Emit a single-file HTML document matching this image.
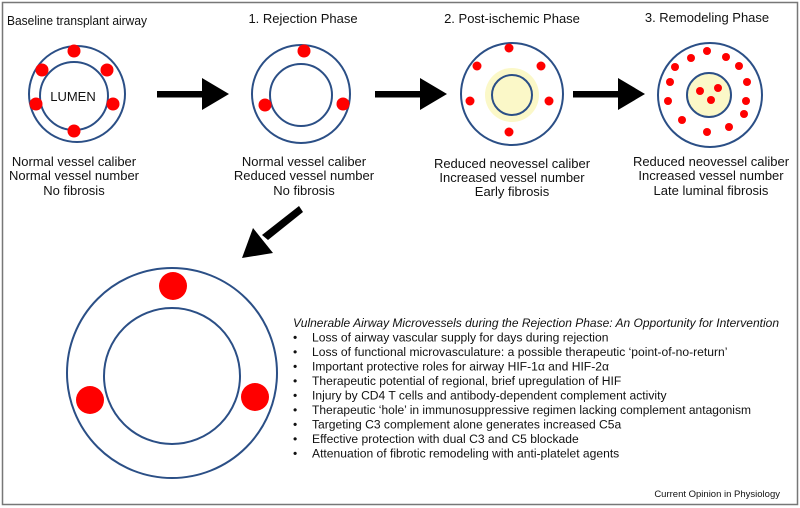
<!DOCTYPE html>
<html><head><meta charset="utf-8"><style>
html,body{margin:0;padding:0;background:#fff;}
svg{display:block;}
text{font-family:"Liberation Sans",Arial,sans-serif;fill:#111;}
</style></head><body>
<svg width="800" height="508" viewBox="0 0 800 508" xmlns="http://www.w3.org/2000/svg">
<rect x="2.5" y="2.5" width="795" height="502" fill="#fff" stroke="#777" stroke-width="1.5"/>
<g font-size="13" text-anchor="middle">
<text x="77" y="25" textLength="140" lengthAdjust="spacingAndGlyphs">Baseline transplant airway</text>
<text x="303" y="23">1. Rejection Phase</text>
<text x="512" y="23">2. Post-ischemic Phase</text>
<text x="707" y="22">3. Remodeling Phase</text>
<text x="74" y="166">Normal vessel caliber</text>
<text x="74" y="180">Normal vessel number</text>
<text x="74" y="195">No fibrosis</text>
<text x="304" y="166">Normal vessel caliber</text>
<text x="304" y="180">Reduced vessel number</text>
<text x="304" y="195">No fibrosis</text>
<text x="512" y="168">Reduced neovessel caliber</text>
<text x="512" y="182">Increased vessel number</text>
<text x="512" y="196">Early fibrosis</text>
<text x="711" y="166">Reduced neovessel caliber</text>
<text x="711" y="180">Increased vessel number</text>
<text x="711" y="195">Late luminal fibrosis</text>
</g>
<g fill="none" stroke="#2b4f86" stroke-width="2">
<circle cx="77" cy="94" r="48"/><circle cx="74" cy="96" r="34"/>
<circle cx="301" cy="94" r="49"/><circle cx="301" cy="95" r="31"/>
</g>
<circle cx="512" cy="95" r="27" fill="#fbf8c8"/>
<circle cx="709" cy="95" r="22" fill="#fbf8c8"/>
<g fill="none" stroke="#2b4f86" stroke-width="2">
<circle cx="512" cy="94" r="51"/><circle cx="512" cy="95" r="20"/>
<circle cx="710" cy="95" r="52"/><circle cx="709" cy="95" r="22"/>
<circle cx="172" cy="373" r="105"/><circle cx="172" cy="376" r="68"/>
</g>
<text x="73" y="101" font-size="13" text-anchor="middle">LUMEN</text>
<g fill="#f00">
<circle cx="74" cy="51" r="6.5"/><circle cx="42" cy="70" r="6.5"/><circle cx="107" cy="70" r="6.5"/>
<circle cx="36" cy="104" r="6.5"/><circle cx="113" cy="104" r="6.5"/><circle cx="74" cy="131" r="6.5"/>
<circle cx="304" cy="51" r="6.5"/><circle cx="265" cy="105" r="6.5"/><circle cx="343" cy="104" r="6.5"/>
<circle cx="509" cy="48" r="4.5"/><circle cx="477" cy="66" r="4.5"/><circle cx="541" cy="66" r="4.5"/>
<circle cx="470" cy="101" r="4.5"/><circle cx="549" cy="101" r="4.5"/><circle cx="509" cy="132" r="4.5"/>
<circle cx="707" cy="51" r="4"/><circle cx="691" cy="58" r="4"/><circle cx="726" cy="57" r="4"/>
<circle cx="675" cy="67" r="4"/><circle cx="739" cy="66" r="4"/><circle cx="670" cy="82" r="4"/>
<circle cx="747" cy="82" r="4"/><circle cx="668" cy="101" r="4"/><circle cx="746" cy="101" r="4"/>
<circle cx="744" cy="114" r="4"/><circle cx="682" cy="120" r="4"/><circle cx="729" cy="127" r="4"/>
<circle cx="707" cy="132" r="4"/>
<circle cx="700" cy="91" r="4"/><circle cx="718" cy="88" r="4"/><circle cx="711" cy="100" r="4"/>
<circle cx="173" cy="286" r="14"/><circle cx="90" cy="400" r="14"/><circle cx="255" cy="397" r="14"/>
</g>
<g fill="#000">
<rect x="157" y="91" width="46" height="6.5"/><polygon points="202,78 229,94 202,110"/>
<rect x="375" y="91" width="46" height="6.5"/><polygon points="420,78 447,94 420,110"/>
<rect x="573" y="91" width="46" height="6.5"/><polygon points="618,78 645,94 618,110"/>
<polygon points="299,206 303,212 268,240 262,235"/>
<polygon points="242,258 253,228 273,253"/>
</g>
<g font-size="12.1">
<text x="293" y="327" font-style="italic" textLength="486" lengthAdjust="spacingAndGlyphs">Vulnerable Airway Microvessels during the Rejection Phase: An Opportunity for Intervention</text>
<text x="293" y="341.5">•</text><text x="312" y="341.5">Loss of airway vascular supply for days during rejection</text>
<text x="293" y="356">•</text><text x="312" y="356">Loss of functional microvasculature: a possible therapeutic ‘point-of-no-return’</text>
<text x="293" y="370.5">•</text><text x="312" y="370.5">Important protective roles for airway HIF-1α and HIF-2α</text>
<text x="293" y="385">•</text><text x="312" y="385">Therapeutic potential of regional, brief upregulation of HIF</text>
<text x="293" y="399.5">•</text><text x="312" y="399.5">Injury by CD4 T cells and antibody-dependent complement activity</text>
<text x="293" y="414">•</text><text x="312" y="414" textLength="439" lengthAdjust="spacingAndGlyphs">Therapeutic ‘hole’ in immunosuppressive regimen lacking complement antagonism</text>
<text x="293" y="428.5">•</text><text x="312" y="428.5">Targeting C3 complement alone generates increased C5a</text>
<text x="293" y="443">•</text><text x="312" y="443">Effective protection with dual C3 and C5 blockade</text>
<text x="293" y="457.5">•</text><text x="312" y="457.5">Attenuation of fibrotic remodeling with anti-platelet agents</text>
</g>
<text x="780" y="497" font-size="9.5" text-anchor="end">Current Opinion in Physiology</text>
</svg>
</body></html>
